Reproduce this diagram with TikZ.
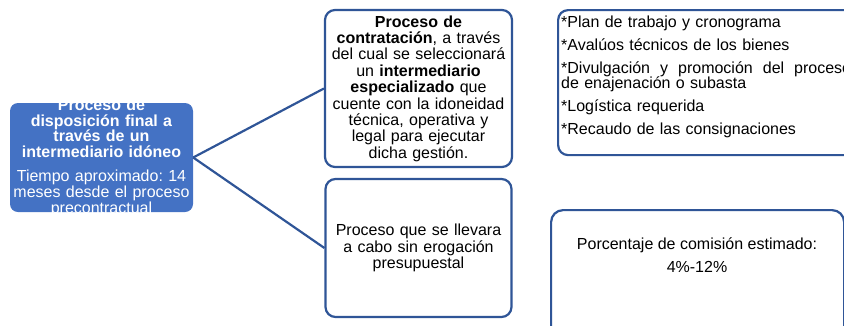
\documentclass[tikz,border=0pt]{standalone}
\usepackage{fontspec}
\setmainfont{Liberation Sans}
\definecolor{fillblue}{HTML}{4472C4}
\definecolor{edgeblue}{HTML}{2F5597}
\newcommand{\jsp}{\hskip 4.45pt plus 1fill\relax}
\begin{document}
\frenchspacing
\begin{tikzpicture}[x=1pt,y=-1pt,
  txt/.style={font=\fontsize{16}{16.4}\selectfont, inner sep=0pt},
  box/.style={draw=edgeblue, line width=2.2pt, rounded corners=10pt, fill=white},
  link/.style={draw=edgeblue, line width=2.2pt}]
\useasboundingbox (0,0) rectangle (844,325);

% left blue box
\node[fill=fillblue, rounded corners=8pt, minimum width=183pt, minimum height=109pt, inner sep=0pt] (L) at (101.5,157.5) {};
\node[txt, text=white, align=center, text width=183pt, font=\fontsize{16}{15.8}\selectfont] (Ltxt) at (L.center)
  {\textbf{Proceso de}\\ \textbf{disposición final a}\\ \textbf{través de un}\\ \textbf{intermediario idóneo}\\[8pt]
   Tiempo aproximado: 14\\ meses desde el proceso\\ precontractual};

% top middle box
\node[box, txt, minimum width=187pt, minimum height=157pt, text width=181pt, align=center] (T) at (418.5,88.5)
  {\textbf{Proceso de}\\ \textbf{contratación}, a través\\ del cual se seleccionará\\ un \textbf{intermediario}\\
   \textbf{especializado} que\\ cuente con la idoneidad\\ técnica, operativa y\\ legal para ejecutar\\ dicha gestión.};

% bottom middle box
\node[box, txt, minimum width=186pt, minimum height=138pt, text width=180pt, align=center] (B) at (418.5,248)
  {Proceso que se llevara\\ a cabo sin erogación\\ presupuestal};

% top right box
\node[box, minimum width=350pt, minimum height=145pt, anchor=north west, inner sep=0pt] (TR) at (557,9) {};
\node[txt, align=left, text width=290pt, anchor=west, font=\fontsize{16}{15.5}\selectfont] (TRt) at (561,77)
  {*Plan de trabajo y cronograma\\[7.5pt]
   *Avalúos técnicos de los bienes\\[7.5pt]
   \leavevmode\hbox to 290pt{*Divulgación\jsp y\jsp promoción\jsp del\jsp proceso}\\
   de enajenación o subasta\\[7.5pt]
   *Logística requerida\\[7.5pt]
   *Recaudo de las consignaciones};

% bottom right box
\node[box, rounded corners=12pt, minimum width=293pt, minimum height=140pt, anchor=north west, inner sep=0pt] (BR) at (550,209) {};
\node[txt, align=center, font=\fontsize{16}{16}\selectfont] (BRt) at (697,255.5)
  {Porcentaje de comisión estimado:\\[7pt] 4\%-12\%};

% connectors
\draw[link] (L.east) -- (T.west);
\draw[link] (L.east) -- (B.west);
\end{tikzpicture}
\end{document}
